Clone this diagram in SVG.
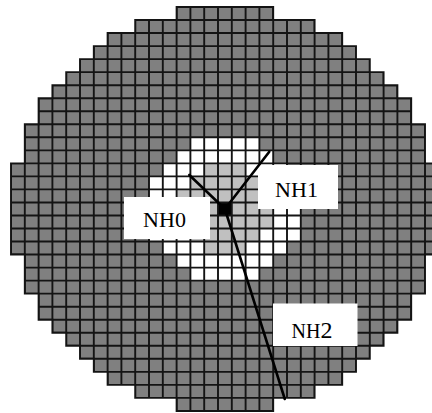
<svg xmlns="http://www.w3.org/2000/svg" width="432" height="413" viewBox="0 0 432 413">
<style>
.dark{fill:#808080}
.wh{fill:#ffffff}
.lt{fill:#c0c0c0}
.gl{fill:none;stroke:#141414;stroke-width:1.9;vector-effect:non-scaling-stroke}
.box{fill:#ffffff}
.lbl{font-family:"Liberation Serif","Times New Roman",serif;font-size:22px;fill:#000;text-anchor:middle}
.con{stroke:#000;stroke-width:2.6;fill:none;stroke-linecap:round}
</style>
<defs>
<clipPath id="discClip"><path d="M12 0H19V1H22V2H24V3H25V4H26V5H27V6H28V7H29V9H30V12H31V19H30V22H29V24H28V25H27V26H26V27H25V28H24V29H22V30H19V31H12V30H9V29H7V28H6V27H5V26H4V25H3V24H2V22H1V19H0V12H1V9H2V7H3V6H4V5H5V4H6V3H7V2H9V1H12Z"/></clipPath>
</defs>
<rect width="432" height="413" fill="#ffffff"/>
<g id="grid" transform="translate(11,7) scale(13.8,13.03)">
<path class="dark" d="M12 0H19V1H22V2H24V3H25V4H26V5H27V6H28V7H29V9H30V12H31V19H30V22H29V24H28V25H27V26H26V27H25V28H24V29H22V30H19V31H12V30H9V29H7V28H6V27H5V26H4V25H3V24H2V22H1V19H0V12H1V9H2V7H3V6H4V5H5V4H6V3H7V2H9V1H12Z"/>
<g class="wh">
<rect x="13" y="10" width="5" height="1"/>
<rect x="12" y="11" width="7" height="1"/>
<rect x="11" y="12" width="9" height="1"/>
<rect x="10" y="13" width="11" height="5"/>
<rect x="11" y="18" width="9" height="1"/>
<rect x="12" y="19" width="7" height="1"/>
<rect x="13" y="20" width="5" height="1"/>
</g>
<g class="lt">
<rect x="14" y="12" width="3" height="1"/>
<rect x="13" y="13" width="5" height="1"/>
<rect x="12" y="14" width="7" height="3"/>
<rect x="13" y="17" width="5" height="1"/>
<rect x="14" y="18" width="3" height="1"/>
</g>
<rect x="15" y="15" width="1" height="1" fill="#000"/>
<path class="gl" clip-path="url(#discClip)" d="M0 0V31M1 0V31M2 0V31M3 0V31M4 0V31M5 0V31M6 0V31M7 0V31M8 0V31M9 0V31M10 0V31M11 0V31M12 0V31M13 0V31M14 0V31M15 0V31M16 0V31M17 0V31M18 0V31M19 0V31M20 0V31M21 0V31M22 0V31M23 0V31M24 0V31M25 0V31M26 0V31M27 0V31M28 0V31M29 0V31M30 0V31M31 0V31M0 0H31M0 1H31M0 2H31M0 3H31M0 4H31M0 5H31M0 6H31M0 7H31M0 8H31M0 9H31M0 10H31M0 11H31M0 12H31M0 13H31M0 14H31M0 15H31M0 16H31M0 17H31M0 18H31M0 19H31M0 20H31M0 21H31M0 22H31M0 23H31M0 24H31M0 25H31M0 26H31M0 27H31M0 28H31M0 29H31M0 30H31M0 31H31"/>
<path class="gl" d="M12 0H19V1H22V2H24V3H25V4H26V5H27V6H28V7H29V9H30V12H31V19H30V22H29V24H28V25H27V26H26V27H25V28H24V29H22V30H19V31H12V30H9V29H7V28H6V27H5V26H4V25H3V24H2V22H1V19H0V12H1V9H2V7H3V6H4V5H5V4H6V3H7V2H9V1H12Z"/>
</g>
<g id="nh0">
<rect class="box" x="124" y="197" width="86" height="42"/>
<text class="lbl" x="164.5" y="227">NH0</text>
</g>
<g id="nh1">
<rect class="box" x="258" y="165" width="80" height="44"/>
<text class="lbl" x="296.5" y="196.5">NH1</text>
</g>
<g id="nh2">
<rect class="box" x="273" y="303.5" width="84.5" height="42.5"/>
<text class="lbl" x="312" y="338.3"><tspan font-size="20">NH</tspan><tspan font-size="24">2</tspan></text>
</g>
<g id="connectors">
<line class="con" x1="224.9" y1="209" x2="189.3" y2="175"/>
<line class="con" x1="224.9" y1="209" x2="269.3" y2="151.7"/>
<line class="con" x1="224.9" y1="209" x2="284.8" y2="399"/>
</g>
</svg>
